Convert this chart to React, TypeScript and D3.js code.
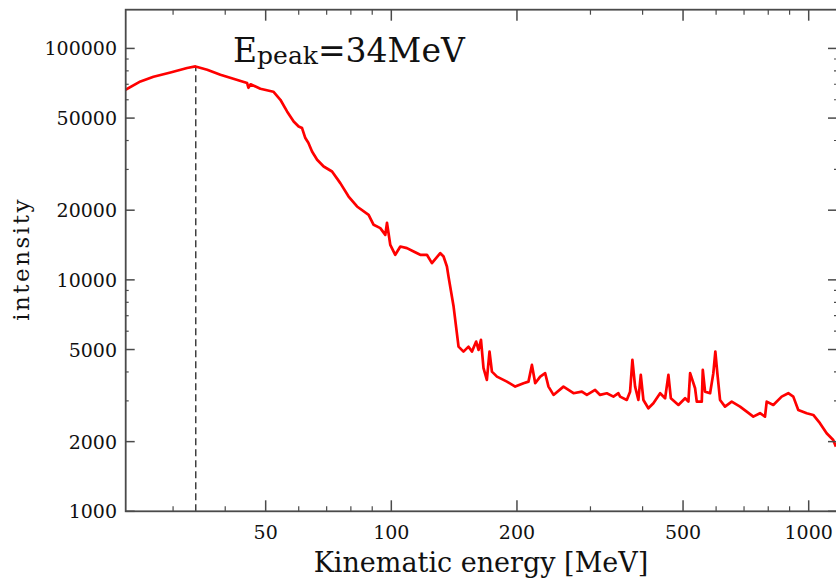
import React from "react";
import * as d3 from "d3";

const energy = [
  23.07, 25.06, 26.93, 29.57, 32.42, 33.94, 36.21, 38.95, 41.84, 45.13, 45.46, 46.0, 48.56,
  52.17, 54.23, 56.26, 58.35, 59.98, 61.11, 62.23, 63.27, 64.58, 66.41, 68.86, 72.11, 75.47,
  79.01, 82.76, 88.23, 90.7, 94.1, 96.74, 97.63, 99.43, 102.2, 105.1, 109.0, 113.1, 117.3,
  121.7, 125.1, 131.0, 133.4, 135.9, 137.1, 141.0, 144.9, 148.9, 153.1, 156.0, 159.7, 161.8,
  164.0, 166.3, 169.4, 171.9, 174.2, 179.1, 189.2, 198.1, 207.4, 213.1, 217.2, 221.2, 227.4,
  233.7, 238.0, 244.7, 258.5, 273.2, 286.1, 294.1, 307.8, 316.4, 328.3, 340.5, 350.0, 353.3,
  366.6, 373.3, 378.1, 383.8, 390.8, 396.0, 401.8, 412.9, 424.5, 440.6, 452.9, 461.2, 467.4,
  487.4, 505.7, 515.0, 519.9, 534.3, 539.3, 554.4, 557.5, 564.6, 580.4, 590.9, 597.5, 604.1,
  613.2, 630.2, 654.0, 684.7, 710.4, 736.7, 764.4, 785.8, 793.2, 822.6, 861.5, 893.4, 918.5,
  944.1, 989.0, 1025.6, 1064, 1104, 1145, 1162,
];
const intensity = [
  66300, 72000, 75450, 78750, 82300, 83600, 80900, 76950, 73960, 70870, 67620, 70000, 66950,
  65000, 60000, 53420, 48340, 46000, 45280, 40990, 39110, 35860, 33030, 30890, 29390, 26180,
  22910, 20750, 19100, 17290, 16730, 15650, 17640, 14170, 12830, 13930, 13710, 13260, 12830,
  12830, 11810, 13050, 12610, 11420, 10330, 7665, 5146, 4898, 5146, 4898, 5411, 4982,
  5503, 4152, 3695, 4898, 4014, 3818, 3634, 3457, 3576, 3634, 4291, 3576, 3818,
  3951, 3457, 3183, 3457, 3237, 3289, 3183, 3345, 3183, 3237, 3130, 3237, 3130,
  3028, 3289, 4510, 3457, 3028, 3885, 3028, 2788, 2930, 3237, 3080, 3885, 3080,
  2881, 3080, 2977, 3951, 3402, 2977, 2977, 4082, 3289, 3237, 3951, 4898, 3951,
  3028, 2834, 2977, 2834, 2696, 2564, 2653, 2564, 2977, 2881, 3130, 3237, 3130,
  2742, 2653, 2608, 2402, 2174, 2034, 1903,
];

const xMajorTicks = [50, 100, 200, 500, 1000];
const xMinorTicks = [30, 40, 60, 70, 80, 90, 300, 400, 600, 700, 800, 900];
const yMajorTicks = [1000, 2000, 5000, 10000, 20000, 50000, 100000];
const yMinorTicks = [3000, 4000, 6000, 7000, 8000, 9000, 30000, 40000, 60000, 70000, 80000, 90000];

const peakEnergy = 34;
const peakIntensity = 83600;

const W = 836;
const H = 580;
const L = 125.7;
const R = 837;
const T = 9.7;
const B = 511.3;

export default function App() {
  const x = d3.scaleLog().domain([23.1, 1169]).range([L, R]);
  const y = d3.scaleLog().domain([1000, 147000]).range([B, T]);
  const data = energy.map((e, i) => [e, intensity[i]] as [number, number]);
  const line = d3
    .line<[number, number]>()
    .x((d) => x(d[0]))
    .y((d) => y(d[1]));
  const axisColor = "#4a4a4a";
  const font = "'DejaVu Serif', serif";

  return (
    <svg
      width={W}
      height={H}
      style={{ position: "absolute", left: 0, top: 0, background: "#fff" }}
    >
      <defs>
        <clipPath id="plot">
          <rect x={L} y={T} width={R - L} height={B - T} />
        </clipPath>
      </defs>
      <rect x={0} y={0} width={W} height={H} fill="#fff" />

      <line
        x1={x(peakEnergy)}
        x2={x(peakEnergy)}
        y1={B}
        y2={y(peakIntensity)}
        stroke="#333"
        strokeWidth={1.4}
        strokeDasharray="7,4"
      />

      <path
        d={line(data) || ""}
        fill="none"
        stroke="#ff0000"
        strokeWidth={2.7}
        strokeLinejoin="round"
        clipPath="url(#plot)"
      />

      <rect x={L} y={T} width={R - L} height={B - T} fill="none" stroke={axisColor} strokeWidth={1.8} />

      {xMajorTicks.map((t) => (
        <g key={"xM" + t}>
          <line x1={x(t)} x2={x(t)} y1={B} y2={B - 11} stroke={axisColor} strokeWidth={1.5} />
          <line x1={x(t)} x2={x(t)} y1={T} y2={T + 11} stroke={axisColor} strokeWidth={1.5} />
          <text x={x(t)} y={538.5} textAnchor="middle" fontFamily={font} fontSize={19} fill="#111">
            {t}
          </text>
        </g>
      ))}
      {xMinorTicks.map((t) => (
        <g key={"xm" + t}>
          <line x1={x(t)} x2={x(t)} y1={B} y2={B - 5} stroke={axisColor} strokeWidth={1.2} />
          <line x1={x(t)} x2={x(t)} y1={T} y2={T + 5} stroke={axisColor} strokeWidth={1.2} />
        </g>
      ))}

      {yMajorTicks.map((t) => (
        <g key={"yM" + t}>
          <line x1={L} x2={L + 9} y1={y(t)} y2={y(t)} stroke={axisColor} strokeWidth={1.5} />
          <line x1={R} x2={R - 9} y1={y(t)} y2={y(t)} stroke={axisColor} strokeWidth={1.5} />
          <text x={117} y={y(t) + 7} textAnchor="end" fontFamily={font} fontSize={19} fill="#111">
            {t}
          </text>
        </g>
      ))}
      {yMinorTicks.map((t) => (
        <g key={"ym" + t}>
          <line x1={L} x2={L + 3} y1={y(t)} y2={y(t)} stroke={axisColor} strokeWidth={1.2} />
          <line x1={R} x2={R - 3} y1={y(t)} y2={y(t)} stroke={axisColor} strokeWidth={1.2} />
        </g>
      ))}

      <text x={481} y={571.5} textAnchor="middle" fontFamily={font} fontSize={27} fill="#111">
        Kinematic energy [MeV]
      </text>
      <text
        transform="translate(28.5,259) rotate(-90)"
        textAnchor="middle"
        fontFamily={font}
        fontSize={23}
        letterSpacing={2.5}
        fill="#111"
      >
        intensity
      </text>

      <text x={233} y={61.7} fontFamily={font} fontSize={33} fill="#111">
        E
        <tspan fontSize={25} dy={2.5}>peak</tspan>
        <tspan fontSize={33} dy={-2.5}>=34MeV</tspan>
      </text>
    </svg>
  );
}
